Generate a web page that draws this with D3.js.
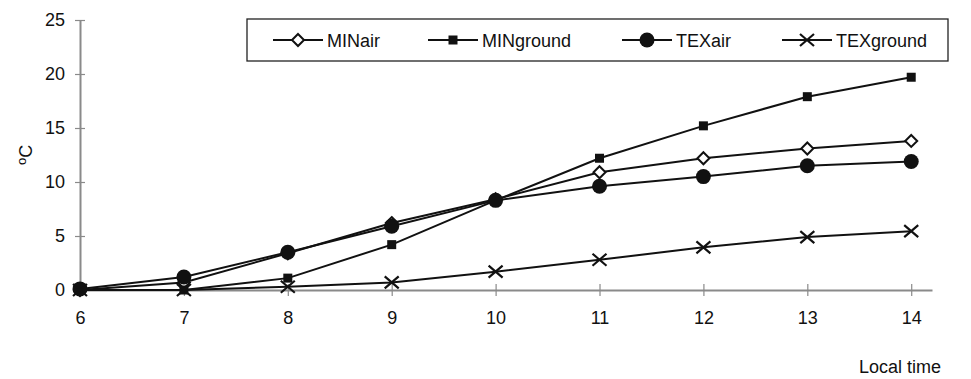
<!DOCTYPE html>
<html>
<head>
<meta charset="utf-8">
<script src="https://cdn.jsdelivr.net/npm/d3@7"></script>
<style>
  html, body { margin: 0; padding: 0; background: #fff; }
  svg { display: block; }
  text { font-family: "Liberation Sans", Arial, sans-serif; fill: #111; }
</style>
</head>
<body>
<svg id="chart" width="971" height="379"></svg>
<script>
// Hour of day (local time)
const hours = [6, 7, 8, 9, 10, 11, 12, 13, 14];

// Temperature rise (°C) for each series
const minAir    = [0, 0.7, 3.4, 6.2, 8.4, 10.9, 12.2, 13.1, 13.8];
const minGround = [0, 0, 1.1, 4.2, 8.3, 12.2, 15.2, 17.9, 19.7];
const texAir    = [0.1, 1.2, 3.5, 5.9, 8.3, 9.6, 10.5, 11.5, 11.9];
const texGround = [0, 0, 0.3, 0.7, 1.7, 2.8, 3.95, 4.9, 5.45];

const seriesNames = ["MINair", "MINground", "TEXair", "TEXground"];
const seriesValues = [minAir, minGround, texAir, texGround];
const seriesMarkers = ["diamond", "square", "circle", "cross"];

const xTicks = [6, 7, 8, 9, 10, 11, 12, 13, 14];
const yTicks = [0, 5, 10, 15, 20, 25];

const svg = d3.select("#chart");

const x = d3.scaleLinear().domain([6, 14.2]).range([80, 932]);
const y = d3.scaleLinear().domain([0, 25]).range([290, 20]);

const axisColor = "#8a8a8a";
const fontFamily = "Liberation Sans, Arial, sans-serif";

// Y axis: crossing ticks, labels to the left
const yAxis = svg.append("g").attr("transform", `translate(${x(6)},0)`)
  .call(d3.axisLeft(y).tickValues(yTicks).tickSize(0).tickPadding(15));
yAxis.select(".domain").attr("stroke", axisColor).attr("stroke-width", 2);
yAxis.selectAll("text").attr("font-size", 18).attr("font-family", fontFamily).attr("fill", "#111");
yAxis.selectAll(".tick").append("line")
  .attr("x1", -5).attr("x2", 5).attr("stroke", axisColor).attr("stroke-width", 1.2);

// X axis: crossing ticks, labels below
const xAxis = svg.append("g").attr("transform", `translate(0,${y(0)})`)
  .call(d3.axisBottom(x).tickValues(xTicks).tickSize(0).tickPadding(21).tickFormat(d3.format("d")));
xAxis.select(".domain").attr("stroke", axisColor).attr("stroke-width", 2);
xAxis.selectAll("text").attr("font-size", 18).attr("font-family", fontFamily).attr("fill", "#111");
xAxis.selectAll(".tick").append("line")
  .attr("y1", -6).attr("y2", 6).attr("stroke", axisColor).attr("stroke-width", 1.2);

// Axis titles
const yTitle = svg.append("text")
  .attr("transform", "translate(32,165) rotate(-90)")
  .attr("font-size", 18);
yTitle.append("tspan").attr("font-size", 13).attr("dy", -6).text("o");
yTitle.append("tspan").attr("dy", 6).text("C");

svg.append("text").attr("x", 859).attr("y", 373).attr("font-size", 18).text("Local time");

// Marker drawing
function drawMarker(g, type, cx, cy) {
  if (type === "diamond") {
    g.append("path")
      .attr("d", `M${cx},${cy - 6}L${cx + 6},${cy}L${cx},${cy + 6}L${cx - 6},${cy}Z`)
      .attr("fill", "#fff").attr("stroke", "#111").attr("stroke-width", 2);
  } else if (type === "square") {
    g.append("rect").attr("x", cx - 4.5).attr("y", cy - 4.5)
      .attr("width", 9).attr("height", 9).attr("fill", "#111");
  } else if (type === "circle") {
    g.append("circle").attr("cx", cx).attr("cy", cy).attr("r", 7.5).attr("fill", "#111");
  } else if (type === "cross") {
    g.append("path")
      .attr("d", `M${cx - 7},${cy - 6}L${cx + 7},${cy + 6}M${cx - 7},${cy + 6}L${cx + 7},${cy - 6}`)
      .attr("stroke", "#111").attr("stroke-width", 2.2).attr("fill", "none");
  }
}

const line = d3.line().x(d => x(d[0])).y(d => y(d[1]));

seriesValues.forEach((vals, i) => {
  const pts = hours.map((h, j) => [h, vals[j]]);
  const g = svg.append("g");
  g.append("path").datum(pts).attr("d", line)
    .attr("fill", "none").attr("stroke", "#111").attr("stroke-width", 2);
  pts.forEach(p => drawMarker(g, seriesMarkers[i], x(p[0]), y(p[1])));
});

// Legend
const legend = svg.append("g");
legend.append("rect").attr("x", 247).attr("y", 19).attr("width", 701).attr("height", 42)
  .attr("fill", "#fff").attr("stroke", "#222").attr("stroke-width", 1.3);
const legendX = [273, 428, 622, 782];
seriesNames.forEach((name, i) => {
  const lx = legendX[i];
  const ly = 40;
  legend.append("line").attr("x1", lx).attr("x2", lx + 50).attr("y1", ly).attr("y2", ly)
    .attr("stroke", "#111").attr("stroke-width", 2);
  drawMarker(legend, seriesMarkers[i], lx + 25, ly);
  legend.append("text").attr("x", lx + 54).attr("y", ly + 6.5)
    .attr("font-size", 18).text(name);
});
</script>
</body>
</html>
